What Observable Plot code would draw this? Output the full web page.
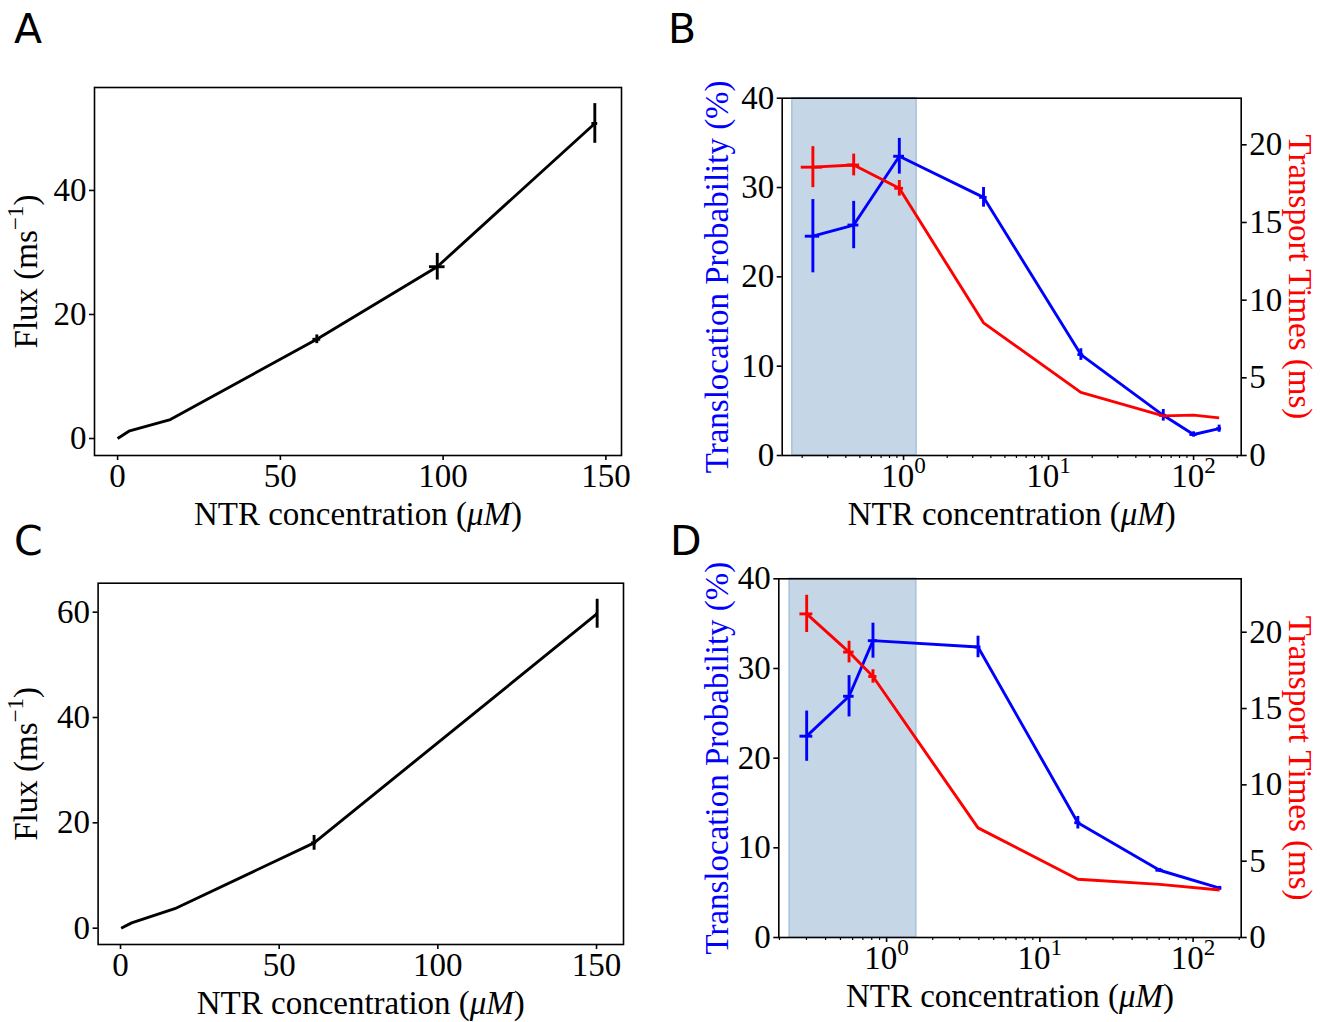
<!DOCTYPE html>
<html><head><meta charset="utf-8">
<script src="https://cdn.jsdelivr.net/npm/d3@7"></script>
<script src="https://cdn.jsdelivr.net/npm/@observablehq/plot@0.6"></script>
<style>
html,body{margin:0;padding:0;background:#fff;}
#fig{position:relative;width:1330px;height:1022px;overflow:hidden;background:#fff;}
#fig svg{position:absolute;left:0;top:0;}
</style></head><body><div id="fig"></div>
<script>
// ---------- data ----------
const panelLetters = ["A", "B", "C", "D"];
const xLabel = "NTR concentration (*μM*)";
const fluxLabel = "Flux (ms^{−1})";
const probLabel = "Translocation Probability (%)";
const timeLabel = "Transport Times (ms)";

// Panel A
const aConc     = [0, 3.7, 16.2, 61.2, 98.2, 146.6];
const aFlux     = [0, 1.24, 3.06, 16.0, 27.7, 50.8];
const aFluxErr  = [0, 0, 0, 0.7, 2.15, 3.2];
const aConcErr  = [0, 0, 0, 1.2, 2.4, 0.9];
const aXTicks = [0, 50, 100, 150];
const aYTicks = [0, 20, 40];

// Panel C
const cConc     = [0.2, 3.5, 17.1, 61.0, 150.2];
const cFlux     = [0, 1.0, 3.7, 16.2, 59.7];
const cFluxErr  = [0, 0, 0, 1.4, 2.75];
const cConcErr  = [0, 0, 0, 0.8, 0.4];
const cXTicks = [0, 50, 100, 150];
const cYTicks = [0, 20, 40, 60];

// Panel B
const bConc         = [0.237, 0.453, 0.935, 3.56, 16.7, 61.8, 100, 150];
const bProb         = [24.55, 25.8, 33.5, 28.9, 11.3, 4.5, 2.35, 3.0];
const bProbErr      = [4.1, 2.65, 2.0, 1.1, 0.65, 0.65, 0.3, 0.4];
const bProbConcErr  = [0.027, 0.039, 0.08, 0.21, 0.77, 3.5, 5.7, 6];
const bTime         = [18.56, 18.7, 17.2, 8.54, 4.06, 2.55, 2.6, 2.42];
const bTimeErr      = [1.32, 0.7, 0.5, 0, 0, 0, 0, 0];
const bTimeConcErr  = [0.04, 0.045, 0.065, 0, 0, 0, 0, 0];
const bShade = [0.171, 1.23];

// Panel D
const dConc         = [0.301, 0.569, 0.815, 3.95, 17.7, 60.5, 149];
const dProb         = [22.45, 26.9, 33.1, 32.4, 12.8, 7.5, 5.5];
const dProbErr      = [2.8, 2.3, 1.95, 1.2, 0.7, 0.2, 0.2];
const dProbConcErr  = [0.029, 0.045, 0.055, 0.18, 0.8, 3.3, 5];
const dTime         = [21.2, 18.7, 17.1, 7.18, 3.82, 3.48, 3.11];
const dTimeErr      = [1.22, 0.71, 0.44, 0, 0, 0, 0];
const dTimeConcErr  = [0.029, 0.045, 0.05, 0, 0, 0, 0];
const dShade = [0.233, 1.563];

const probTicks = [0, 10, 20, 30, 40];
const timeTicks = [0, 5, 10, 15, 20];
const logMajorTicks = [1, 10, 100];
const logDecades = [0.1, 1, 10, 100];
const logMinorMultipliers = [2, 3, 4, 5, 6, 7, 8, 9];

// ---------- layout ----------
const W = 1330, H = 1022;
const SERIF = "'Liberation Serif', 'Times New Roman', serif";
const TICK_FS = 33, LABEL_FS = 33;
const LW = 2.9;
const baseStyle = {background: "transparent", overflow: "visible", fontFamily: SERIF, fontSize: TICK_FS + "px", color: "black"};
const tickText = {fontSize: TICK_FS, fontFamily: SERIF, fontVariant: "normal"};

function records(xs, ys, ye, xe) {
  return xs.map((x, i) => ({x, y: ys[i], ye: ye[i], xe: xe[i]}));
}

function seriesMarks(data, stroke, k = 1) {
  return [
    Plot.line(data, {x: "x", y: d => d.y * k, stroke, strokeWidth: LW, strokeLinejoin: "round", strokeLinecap: "butt"}),
    Plot.ruleX(data.filter(d => d.ye > 0), {x: "x", y1: d => (d.y - d.ye) * k, y2: d => (d.y + d.ye) * k, stroke, strokeWidth: LW, strokeLinecap: "butt"}),
    Plot.ruleY(data.filter(d => d.xe > 0), {y: d => d.y * k, x1: d => d.x - d.xe, x2: d => d.x + d.xe, stroke, strokeWidth: LW, strokeLinecap: "butt"})
  ];
}

function linearPanel({frame, xDomain, yDomain, xTicks, yTicks, data}) {
  const [L, R, T, B] = frame;
  return Plot.plot({
    width: W, height: H,
    marginLeft: L, marginRight: W - R, marginTop: T, marginBottom: H - B,
    style: baseStyle,
    x: {domain: xDomain, label: null},
    y: {domain: yDomain, label: null},
    marks: [
      Plot.axisX({ticks: xTicks, tickSize: 5, tickPadding: 3, strokeWidth: 1.6, ...tickText, label: null, tickFormat: d => String(d)}),
      Plot.axisY({ticks: yTicks, tickSize: 5, tickPadding: 3, strokeWidth: 1.6, ...tickText, label: null, tickFormat: d => String(d)}),
      ...seriesMarks(data, "black"),
      Plot.frame({stroke: "black", strokeWidth: 1.6}),
      Plot.text([xLabel], {text: d => d, frameAnchor: "bottom", textAnchor: "middle", dy: 46, lineAnchor: "top", fontSize: LABEL_FS, fontFamily: SERIF}),
      Plot.text([fluxLabel], {text: d => d, frameAnchor: "left", textAnchor: "middle", rotate: -90, dx: -(L - 13), lineAnchor: "top", fontSize: LABEL_FS, fontFamily: SERIF})
    ]
  });
}

function logPanel({frame, xDomain, rightMax, shade, prob, time}) {
  const [L, R, T, B] = frame;
  const k = 40 / rightMax;
  const minors = logDecades.flatMap(dec => logMinorMultipliers.map(m => m * dec))
    .filter(v => v >= xDomain[0] && v <= xDomain[1]);
  return Plot.plot({
    width: W, height: H,
    marginLeft: L, marginRight: W - R, marginTop: T, marginBottom: H - B,
    style: baseStyle,
    x: {type: "log", domain: xDomain, label: null},
    y: {domain: [0, 40], label: null},
    marks: [
      Plot.rect([shade], {x1: d => d[0], x2: d => d[1], fill: "#c5d6e6", stroke: "#a9c1da", strokeWidth: 1.5}),
      Plot.axisX({ticks: minors, tickSize: 3, strokeWidth: 1.2, tickFormat: () => "", label: null}),
      Plot.axisX({ticks: logMajorTicks, tickSize: 5, tickPadding: 3, strokeWidth: 1.6, ...tickText, label: null,
        tickFormat: d => `10^{${Math.round(Math.log10(d))}}`}),
      Plot.axisY({ticks: probTicks, tickSize: 5, tickPadding: 3, strokeWidth: 1.6, ...tickText, label: null, tickFormat: d => String(d)}),
      Plot.axisY({anchor: "right", ticks: timeTicks.map(v => v * k), tickSize: 5, tickPadding: 3, strokeWidth: 1.6, ...tickText, label: null,
        tickFormat: d => String(Math.round(d / k))}),
      ...seriesMarks(prob, "#0000ff"),
      ...seriesMarks(time, "#ff0000", k),
      Plot.frame({stroke: "black", strokeWidth: 1.6}),
      Plot.text([xLabel], {text: d => d, frameAnchor: "bottom", textAnchor: "middle", dy: 46, lineAnchor: "top", fontSize: LABEL_FS, fontFamily: SERIF}),
      Plot.text([probLabel], {text: d => d, frameAnchor: "left", textAnchor: "middle", rotate: -90, dx: -(L - 704), lineAnchor: "top", fontSize: LABEL_FS, fontFamily: SERIF, fill: "#0000ff"}),
      Plot.text([timeLabel], {text: d => d, frameAnchor: "right", textAnchor: "middle", rotate: 90, dx: 1312 - R, lineAnchor: "top", fontSize: LABEL_FS, fontFamily: SERIF, fill: "#ff0000"})
    ]
  });
}

// rich text: ^{...} superscript, *...* italic
const SVGNS = "http://www.w3.org/2000/svg";
function enrich(svg) {
  svg.querySelectorAll("text").forEach(t => {
    if (t.querySelector("tspan")) return;
    const s = t.textContent;
    if (!/\^\{|\*/.test(s)) return;
    t.textContent = "";
    const re = /\^\{([^}]*)\}|\*([^*]*)\*|([^\^*]+)/g;
    let m;
    while ((m = re.exec(s))) {
      const ts = document.createElementNS(SVGNS, "tspan");
      if (m[1] !== undefined) {
        ts.textContent = m[1];
        ts.setAttribute("font-size", "70%");
        ts.setAttribute("baseline-shift", "0.6em");
      } else if (m[2] !== undefined) {
        ts.textContent = m[2];
        ts.setAttribute("font-style", "italic");
      } else ts.textContent = m[3];
      t.appendChild(ts);
    }
  });
}

const fig = document.getElementById("fig");

const plots = [
  linearPanel({frame: [94, 621, 87, 455], xDomain: [-7.1, 154.8], yDomain: [-2.74, 56.6], xTicks: aXTicks, yTicks: aYTicks,
    data: records(aConc, aFlux, aFluxErr, aConcErr)}),
  logPanel({frame: [781.7, 1240.7, 97.7, 455], xDomain: [0.1456, 213], rightMax: 23, shade: bShade,
    prob: records(bConc, bProb, bProbErr, bProbConcErr), time: records(bConc, bTime, bTimeErr, bTimeConcErr)}),
  linearPanel({frame: [97.6, 623, 582.7, 944], xDomain: [-7.06, 158.5], yDomain: [-3.1, 65.5], xTicks: cXTicks, yTicks: cYTicks,
    data: records(cConc, cFlux, cFluxErr, cConcErr)}),
  logPanel({frame: [778.3, 1240.7, 578.3, 937], xDomain: [0.198, 206], rightMax: 23.5, shade: dShade,
    prob: records(dConc, dProb, dProbErr, dProbConcErr), time: records(dConc, dTime, dTimeErr, dTimeConcErr)})
];
plots.forEach(p => { fig.appendChild(p); enrich(p); });

// panel letters
const letterPos = [[14, 43], [668, 43], [14, 555], [670, 555]];
const ov = d3.select(fig).append("svg").attr("width", W).attr("height", H);
ov.selectAll("text").data(panelLetters).join("text")
  .attr("x", (d, i) => letterPos[i][0]).attr("y", (d, i) => letterPos[i][1])
  .attr("font-family", "'DejaVu Sans', sans-serif").attr("font-size", 41)
  .text(d => d);
</script></body></html>
